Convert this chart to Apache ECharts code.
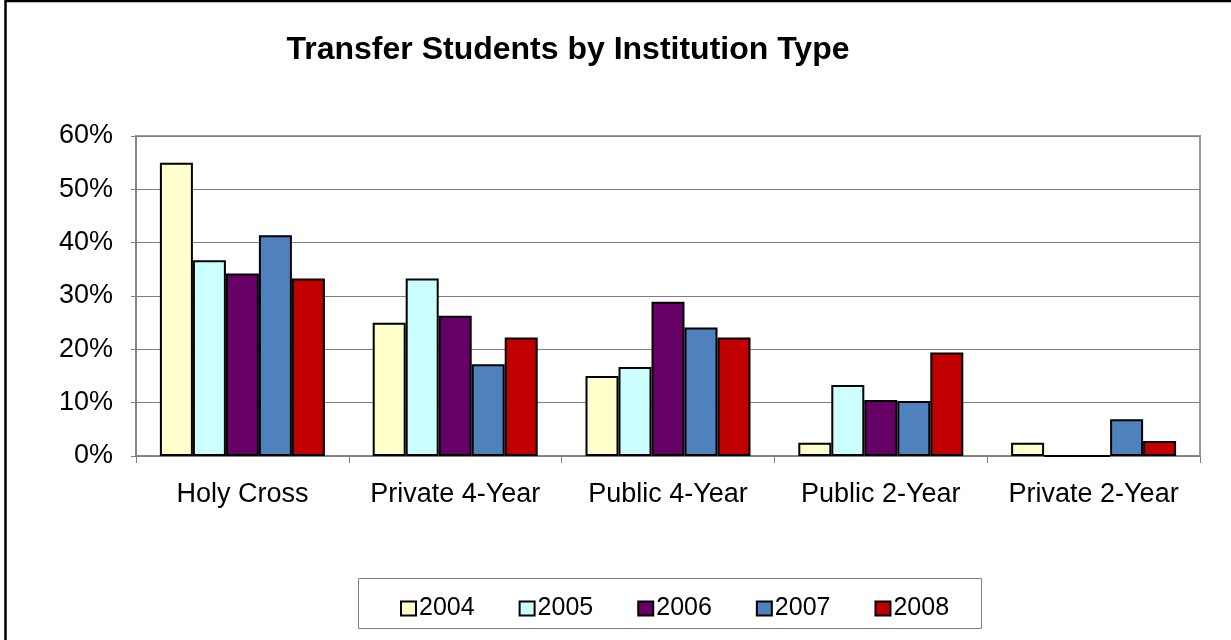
<!DOCTYPE html>
<html><head><meta charset="utf-8">
<script src="https://cdn.jsdelivr.net/npm/echarts@6/dist/echarts.min.js"></script>
<style>html,body{margin:0;padding:0;background:#fff}#c{width:1231px;height:640px}</style>
</head><body><div id="c"></div>
<script>
const categories = ['Holy Cross', 'Private 4-Year', 'Public 4-Year', 'Public 2-Year', 'Private 2-Year'];
const years = ['2004', '2005', '2006', '2007', '2008'];
const v2004 = [55.0, 25.0, 15.0, 2.5, 2.5];
const v2005 = [36.7, 33.3, 16.7, 13.3, 0];
const v2006 = [34.2, 26.3, 28.9, 10.5, 0];
const v2007 = [41.4, 17.2, 24.1, 10.3, 6.9];
const v2008 = [33.3, 22.2, 22.2, 19.4, 2.8];
const yTicks = [0, 10, 20, 30, 40, 50, 60];
const colors = ['#FFFFCC', '#CCFFFF', '#660066', '#4F81BD', '#C00000'];
const seriesData = [v2004, v2005, v2006, v2007, v2008];

const chart = echarts.init(document.getElementById('c'));
const font = 'Arial, "Liberation Sans", sans-serif';
chart.setOption({
  animation: false,
  title: {
    text: 'Transfer Students by Institution Type',
    left: 563, top: 29, textAlign: 'center',
    textStyle: {fontFamily: font, fontSize: 32, fontWeight: 'bold', color: '#000'}
  },
  graphic: [
    {type: 'rect', shape: {x: 5.5, y: 1, width: 1240, height: 660}, style: {fill: 'none', stroke: '#000', lineWidth: 2.5}, silent: true},
    {type: 'rect', shape: {x: 358.5, y: 578.5, width: 623, height: 50}, style: {fill: 'none', stroke: '#808080', lineWidth: 1}, silent: true}
  ],
  legend: {
    data: years,
    left: 395, top: 591,
    itemWidth: 15, itemHeight: 14, itemGap: 44,
    icon: 'rect',
    textStyle: {fontFamily: font, fontSize: 25, color: '#000', padding: [0, 0, 0, -2]},
    itemStyle: {borderColor: '#000', borderWidth: 2}
  },
  grid: {left: 136, right: 31, top: 136, bottom: 184, containLabel: false,
    show: true, borderColor: '#999', borderWidth: 2},
  xAxis: {
    type: 'category', data: categories,
    axisLine: {lineStyle: {color: '#808080', width: 1.5}},
    axisTick: {show: true, alignWithLabel: false, length: 7, lineStyle: {color: '#808080'}},
    axisLabel: {fontFamily: font, fontSize: 27, color: '#000', margin: 25, interval: 0}
  },
  yAxis: {
    type: 'value', min: 0, max: 60, interval: 10,
    axisLine: {show: true, lineStyle: {color: '#808080', width: 1.5}},
    axisTick: {show: true, length: 5, lineStyle: {color: '#808080'}},
    splitLine: {lineStyle: {color: '#808080', width: 1}},
    axisLabel: {fontFamily: font, fontSize: 27, color: '#000', margin: 23,
      formatter: v => yTicks.includes(v) ? v + '%' : ''}
  },
  series: years.map((y, i) => ({
    name: y, type: 'bar', data: seriesData[i],
    barWidth: 33, barGap: '0%',
    itemStyle: {color: colors[i], borderColor: '#000', borderWidth: 2}
  }))
});
</script></body></html>
